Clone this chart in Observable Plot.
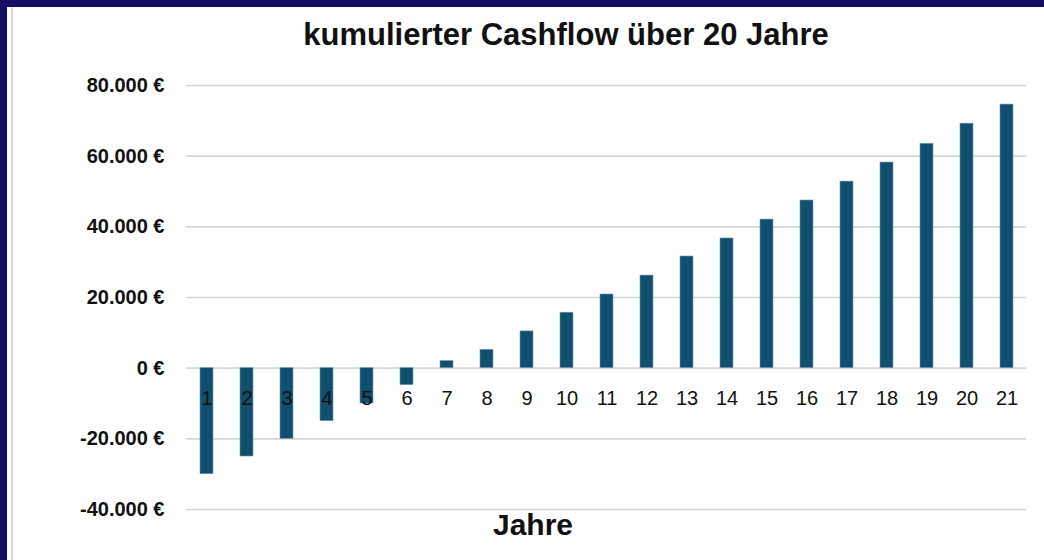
<!DOCTYPE html>
<html>
<head>
<meta charset="utf-8">
<script src="https://cdn.jsdelivr.net/npm/d3@7"></script>
<script src="https://cdn.jsdelivr.net/npm/@observablehq/plot@0.6"></script>
<style>
  html, body { margin: 0; padding: 0; background: #160e62; }
  #wrap { position: relative; width: 1044px; height: 560px; overflow: hidden; background: #160e62; }
  #paper { position: absolute; left: 7px; top: 7px; right: 0; bottom: 0; background: #ffffff; }
  #edge { position: absolute; left: 11px; top: 7px; width: 2px; bottom: 0; background: #d9d9d9; }
  #title { position: absolute; left: 0; width: 1132px; top: 17px; text-align: center;
           font-family: "Liberation Sans", Arial, sans-serif; font-weight: bold; font-size: 31px; color: #111; }
  #xlabel { position: absolute; left: 0; width: 1066px; top: 508px; text-align: center;
            font-family: "Liberation Sans", Arial, sans-serif; font-weight: bold; font-size: 30px; color: #111; }
  #chart { position: absolute; left: 0; top: 0; }
</style>
</head>
<body>
<div id="wrap">
  <div id="paper"></div>
  <div id="edge"></div>
  <div id="chart"></div>
  <div id="title">kumulierter Cashflow über 20 Jahre</div>
  <div id="xlabel">Jahre</div>
</div>
<script>
const years = [1, 2, 3, 4, 5, 6, 7, 8, 9, 10, 11, 12, 13, 14, 15, 16, 17, 18, 19, 20, 21];
const cashflow = [-30000, -25000, -20000, -15000, -10000, -4800, 2000, 5200, 10400, 15700, 20850,
                  26200, 31600, 36700, 42050, 47450, 52800, 58200, 63500, 69200, 74600];
const yTicks = [-40000, -20000, 0, 20000, 40000, 60000, 80000];

const data = years.map((y, i) => ({year: y, value: cashflow[i]}));
const euro = v => d3.format(",")(v).replace(/,/g, ".").replace("\u2212", "-") + " €";

const chart = Plot.plot({
  width: 1044,
  height: 560,
  marginLeft: 186,
  marginRight: 18,
  marginTop: 85,
  marginBottom: 51,
  style: {background: "transparent", fontFamily: "'Liberation Sans', Arial, sans-serif"},
  x: {type: "band", domain: years, paddingInner: 0.675, paddingOuter: 0.3375, axis: null},
  y: {domain: [-40000, 80000], axis: null},
  marks: [
    Plot.gridY(yTicks, {stroke: "#d6d6d6", strokeOpacity: 1, strokeWidth: 1.6}),
    Plot.barY(data, {x: "year", y: "value", fill: "#104f6d", stroke: "#6e98ad", strokeWidth: 0.6}),
    Plot.axisY(yTicks, {label: null, tickSize: 0, tickPadding: 22, tickFormat: euro, fontSize: 20, fontWeight: "bold", fill: "#111"}),
    Plot.text(data, {x: "year", y: () => 0, text: d => String(d.year), dy: 30, fontSize: 20, fill: "#111"})
  ]
});
document.getElementById("chart").appendChild(chart);
</script>
</body>
</html>
